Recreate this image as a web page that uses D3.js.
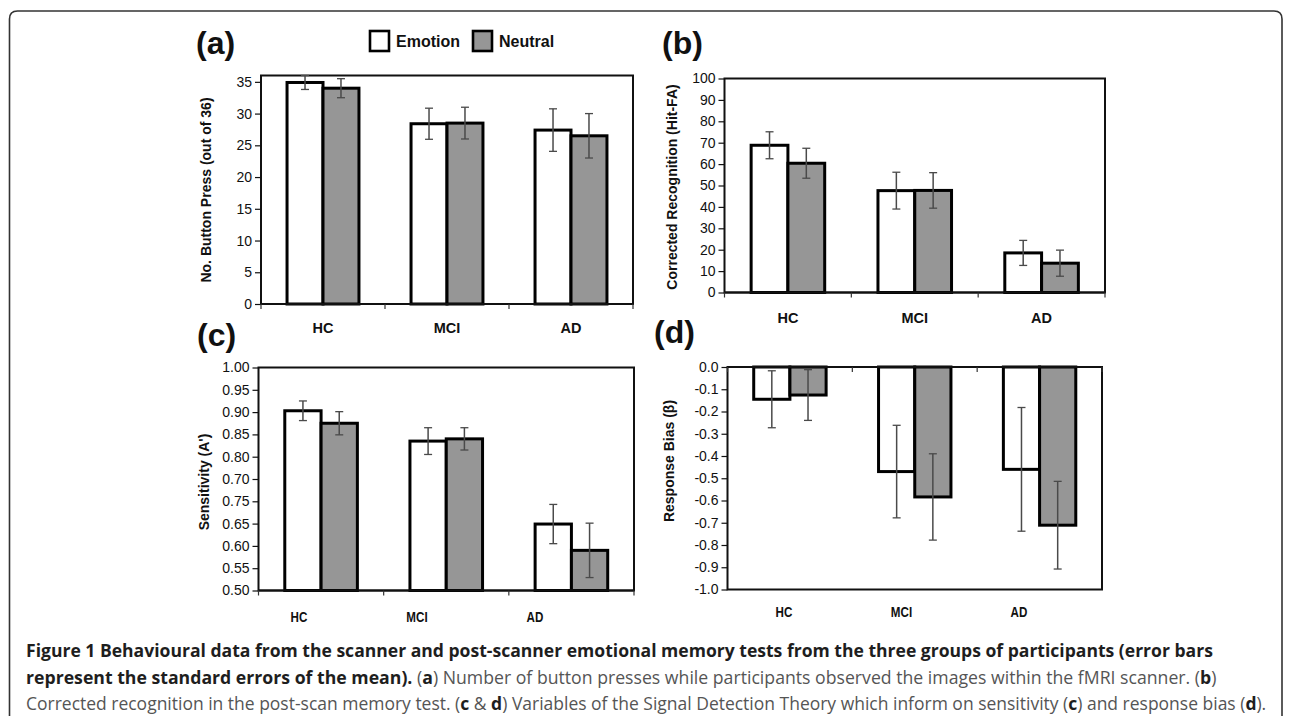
<!DOCTYPE html>
<html>
<head>
<meta charset="utf-8">
<script src="https://cdn.jsdelivr.net/npm/d3@7"></script>
<style>
  html, body { margin: 0; padding: 0; background: #fff; }
  svg { display: block; }
  text { font-family: "Liberation Sans", Arial, sans-serif; }
</style>
</head>
<body>
<svg id="chart" width="1290" height="716"></svg>
<script>
// ---------------- data ----------------
const categories = ["HC", "MCI", "AD"];
const seriesNames = ["Emotion", "Neutral"];

const pressEmotion = [34.9, 28.4, 27.4];
const pressEmotionErr = [1.1, 2.45, 3.35];
const pressNeutral = [34.0, 28.5, 26.5];
const pressNeutralErr = [1.5, 2.5, 3.5];

const recogEmotion = [68.8, 47.6, 18.5];
const recogEmotionErr = [6.3, 8.6, 5.85];
const recogNeutral = [60.4, 47.7, 13.7];
const recogNeutralErr = [7.0, 8.3, 6.1];

const sensEmotion = [0.903, 0.835, 0.649];
const sensEmotionErr = [0.022, 0.030, 0.044];
const sensNeutral = [0.875, 0.840, 0.590];
const sensNeutralErr = [0.026, 0.025, 0.061];

const biasEmotion = [-0.145, -0.470, -0.460];
const biasEmotionErr = [0.128, 0.208, 0.278];
const biasNeutral = [-0.126, -0.584, -0.711];
const biasNeutralErr = [0.114, 0.194, 0.197];

const pressTicks = [0, 5, 10, 15, 20, 25, 30, 35];
const recogTicks = [0, 10, 20, 30, 40, 50, 60, 70, 80, 90, 100];
const sensTicks = [1.00, 0.95, 0.90, 0.85, 0.80, 0.75, 0.70, 0.65, 0.60, 0.55, 0.50];
const sensTickLabels = ["1.00", "0.95", "0.90", "0.85", "0.80", "0.70", "0.75", "0.65", "0.60", "0.55", "0.50"];
const biasTicks = [0, -0.1, -0.2, -0.3, -0.4, -0.5, -0.6, -0.7, -0.8, -0.9, -1.0];
const biasTickLabels = ["0.0", "-0.1", "-0.2", "-0.3", "-0.4", "-0.5", "-0.6", "-0.7", "-0.8", "-0.9", "-1.0"];

// ---------------- styles ----------------
const GRAY = "#969696";
const fills = { Emotion: "#ffffff", Neutral: GRAY };
const svg = d3.select("#chart");

function panel(cfg) {
  const g = svg.append("g");
  const x = d3.scaleBand().domain(categories).range([cfg.left, cfg.right]).paddingInner(0).paddingOuter(0);
  const y = d3.scaleLinear().domain(cfg.domain).range([cfg.bottom, cfg.top]);
  const bw = x.bandwidth() * 0.29;
  const xs = d3.scaleBand().domain(seriesNames).range([-bw, bw]);

  // frame
  g.append("rect")
    .attr("x", cfg.left).attr("y", cfg.top)
    .attr("width", cfg.right - cfg.left).attr("height", cfg.bottom - cfg.top)
    .attr("fill", "none").attr("stroke", "#111").attr("stroke-width", 2);

  // bars
  const rows = [];
  categories.forEach((c, i) => {
    rows.push({ cat: c, s: "Emotion", v: cfg.emo[i], e: cfg.emoErr[i] });
    rows.push({ cat: c, s: "Neutral", v: cfg.neu[i], e: cfg.neuErr[i] });
  });
  const base = y(cfg.baseValue);
  g.selectAll("rect.bar").data(rows).join("rect").attr("class", "bar")
    .attr("x", d => x(d.cat) + x.bandwidth() / 2 + xs(d.s))
    .attr("width", xs.bandwidth())
    .attr("y", d => Math.min(y(d.v), base))
    .attr("height", d => Math.abs(base - y(d.v)))
    .attr("fill", d => fills[d.s]).attr("stroke", "#000").attr("stroke-width", 3);

  // error bars
  const eb = g.selectAll("g.err").data(rows).join("g").attr("class", "err")
    .attr("transform", d => `translate(${x(d.cat) + x.bandwidth() / 2 + xs(d.s) + xs.bandwidth() / 2},0)`);
  eb.append("line").attr("y1", d => y(d.v + d.e)).attr("y2", d => y(d.v - d.e))
    .attr("stroke", "#4a4a4a").attr("stroke-width", 1.5);
  eb.append("line").attr("x1", -4).attr("x2", 4).attr("y1", d => y(d.v + d.e)).attr("y2", d => y(d.v + d.e))
    .attr("stroke", "#4a4a4a").attr("stroke-width", 1.3);
  eb.append("line").attr("x1", -4).attr("x2", 4).attr("y1", d => y(d.v - d.e)).attr("y2", d => y(d.v - d.e))
    .attr("stroke", "#4a4a4a").attr("stroke-width", 1.3);

  // y axis
  const ya = g.append("g").attr("transform", `translate(${cfg.left},0)`)
    .call(d3.axisLeft(y).tickValues(cfg.ticks).tickSize(6).tickPadding(3)
      .tickFormat((d, i) => cfg.tickLabels ? cfg.tickLabels[i] : d3.format(cfg.fmt)(d)));
  ya.select(".domain").remove();
  ya.selectAll(".tick line").attr("stroke", "#111").attr("stroke-width", 1.2);
  ya.selectAll(".tick text").attr("font-size", 14).attr("fill", "#111")
    .attr("font-family", "'Liberation Sans', Arial, sans-serif");

  // x axis line with boundary ticks
  const ay = y(cfg.baseValue);
  const bounds = categories.map(c => x(c)).concat([x.range()[1]]);
  g.append("line").attr("x1", cfg.left).attr("x2", cfg.right).attr("y1", ay).attr("y2", ay)
    .attr("stroke", "#111").attr("stroke-width", 2);
  g.selectAll("line.xt").data(bounds).join("line").attr("class", "xt")
    .attr("x1", d => d).attr("x2", d => d).attr("y1", ay).attr("y2", ay + 5)
    .attr("stroke", "#333").attr("stroke-width", 1.2);

  // category labels
  if (cfg.catY !== undefined) {
    const xl = cfg.catRange ? d3.scalePoint().domain(categories).range(cfg.catRange) : null;
    g.selectAll("text.cat").data(categories).join("text").attr("class", "cat")
      .attr("transform", d => `translate(${xl ? xl(d) : x(d) + x.bandwidth() / 2},${cfg.catY}) scale(${cfg.catScale || 1},1)`)
      .attr("text-anchor", "middle").attr("font-size", 14.5).attr("font-weight", "bold")
      .attr("fill", "#111").text(d => d);
  }

  // y title
  g.append("text")
    .attr("transform", `translate(${cfg.titleX},${cfg.titleY}) rotate(-90)`)
    .attr("text-anchor", "middle").attr("font-size", 14).attr("font-weight", "bold")
    .attr("fill", "#111").text(cfg.title);

  // panel letter
  g.append("text").attr("x", cfg.letterX).attr("y", cfg.letterY)
    .attr("font-size", 32).attr("font-weight", "bold").attr("fill", "#111").text(cfg.letter);
}

// outer rounded border (open at bottom)
svg.append("path")
  .attr("d", "M9.5,716 L9.5,19 Q9.5,11 17.5,11 L1274,11 Q1282,11 1282,19 L1282,716")
  .attr("fill", "none").attr("stroke", "#333").attr("stroke-width", 1.6);

panel({ left: 261, right: 633, top: 75.5, bottom: 304, domain: [0, 36], baseValue: 0,
  emo: pressEmotion, emoErr: pressEmotionErr, neu: pressNeutral, neuErr: pressNeutralErr,
  ticks: pressTicks, fmt: "d", catY: 333, title: "No. Button Press (out of 36)", titleX: 211, titleY: 190,
  letter: "(a)", letterX: 196, letterY: 54 });

panel({ left: 724.5, right: 1105, top: 78.5, bottom: 292.5, domain: [0, 100], baseValue: 0,
  emo: recogEmotion, emoErr: recogEmotionErr, neu: recogNeutral, neuErr: recogNeutralErr,
  ticks: recogTicks, fmt: "d", catY: 323, title: "Corrected Recognition (Hit-FA)", titleX: 677, titleY: 187,
  letter: "(b)", letterX: 662, letterY: 54 });

panel({ left: 258.5, right: 634, top: 367.5, bottom: 590.5, domain: [0.5, 1.0], baseValue: 0.5,
  emo: sensEmotion, emoErr: sensEmotionErr, neu: sensNeutral, neuErr: sensNeutralErr,
  ticks: sensTicks, tickLabels: sensTickLabels, catY: 622, catRange: [299, 535], catScale: 0.8,
  title: "Sensitivity (A')", titleX: 209, titleY: 482,
  letter: "(c)", letterX: 197, letterY: 346 });

panel({ left: 727.5, right: 1102, top: 367, bottom: 589.5, domain: [-1.0, 0], baseValue: 0,
  emo: biasEmotion, emoErr: biasEmotionErr, neu: biasNeutral, neuErr: biasNeutralErr,
  ticks: biasTicks, tickLabels: biasTickLabels, catY: 617, catRange: [784, 1019], catScale: 0.8,
  title: "Response Bias (\u03b2)", titleX: 674, titleY: 461,
  letter: "(d)", letterX: 654, letterY: 343 });

// legend
const legX = d3.scalePoint().domain(seriesNames).range([370, 473]);
const lg = svg.selectAll("g.leg").data(seriesNames).join("g").attr("class", "leg")
  .attr("transform", d => `translate(${legX(d)},31)`);
lg.append("rect").attr("width", 19).attr("height", 20).attr("fill", d => fills[d])
  .attr("stroke", "#000").attr("stroke-width", 2.6);
lg.append("text").attr("x", 26).attr("y", 16).attr("font-size", 16).attr("font-weight", "bold")
  .attr("fill", "#111").text(d => d);

// caption
const captionLines = [
  { y: 657, width: 1188, segs: [
    { t: "Figure 1 Behavioural data from the scanner and post-scanner emotional memory tests from the three groups of participants (error bars", b: true } ] },
  { y: 684, width: 1191, segs: [
    { t: "represent the standard errors of the mean).", b: true },
    { t: " (", b: false }, { t: "a", b: true },
    { t: ") Number of button presses while participants observed the images within the fMRI scanner. (", b: false },
    { t: "b", b: true }, { t: ")", b: false } ] },
  { y: 710, width: 1241, segs: [
    { t: "Corrected recognition in the post-scan memory test. (", b: false },
    { t: "c", b: true }, { t: " & ", b: false }, { t: "d", b: true },
    { t: ") Variables of the Signal Detection Theory which inform on sensitivity (", b: false },
    { t: "c", b: true }, { t: ") and response bias (", b: false }, { t: "d", b: true }, { t: ").", b: false } ] }
];
captionLines.forEach(line => {
  const t = svg.append("text").attr("x", 0).attr("y", 0)
    .attr("font-size", 17.5)
    .style("font-family", "'Open Sans', 'Noto Sans', sans-serif");
  line.segs.forEach(s => {
    t.append("tspan").attr("font-weight", s.b ? "bold" : "normal")
      .attr("fill", s.b ? "#1e1e1e" : "#555").text(s.t);
  });
  const w = t.node().getComputedTextLength();
  t.attr("transform", `translate(26,${line.y}) scale(${line.width / w},1)`);
});
</script>
</body>
</html>
